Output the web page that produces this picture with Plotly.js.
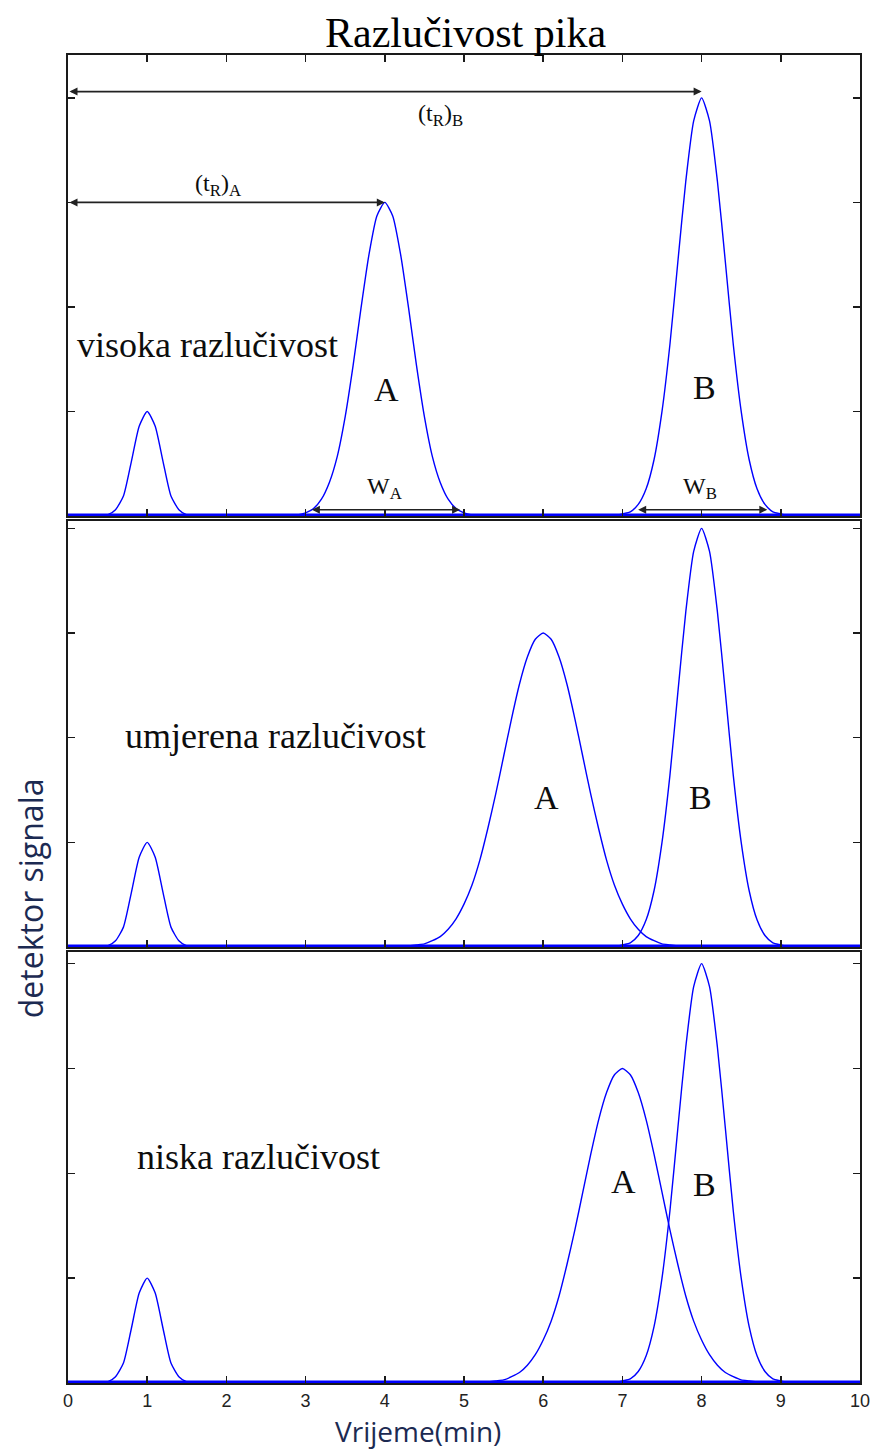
<!DOCTYPE html>
<html>
<head>
<meta charset="utf-8">
<script src="https://cdn.plot.ly/plotly-3.0.1.min.js"></script>
<style>html,body{margin:0;padding:0;background:#fff;}#chart{width:874px;height:1450px;}</style>
</head>
<body>
<div id="chart"></div>
<script>
// ---- data ----
const xTicks = [0,1,2,3,4,5,6,7,8,9,10];
const yTicks = [1,2,3,4];

// small early peak (all three panels)
const tPeak1 = [0.4,0.5,0.6,0.7,0.8,0.9,1.0,1.1,1.2,1.3,1.4,1.5,1.6];
const yPeak1 = [0,0.01,0.06,0.19,0.52,0.86,1,0.86,0.52,0.19,0.06,0.01,0];

// peak A, high resolution (narrow, centre 4)
const tAhigh = [2.8,2.9,3.0,3.1,3.2,3.3,3.4,3.5,3.6,3.7,3.8,3.9,4.0,4.1,4.2,4.3,4.4,4.5,4.6,4.7,4.8,4.9,5.0,5.1,5.2];
const yAhigh = [0,0.01,0.03,0.07,0.16,0.32,0.57,0.95,1.44,1.99,2.5,2.87,3,2.87,2.5,1.99,1.44,0.95,0.57,0.32,0.16,0.07,0.03,0.01,0];

// peak A, moderate resolution (wide, centre 6)
const tAmid = [4.2,4.3,4.4,4.5,4.6,4.7,4.8,4.9,5.0,5.1,5.2,5.3,5.4,5.5,5.6,5.7,5.8,5.9,6.0,6.1,6.2,6.3,6.4,6.5,6.6,6.7,6.8,6.9,7.0,7.1,7.2,7.3,7.4,7.5,7.6,7.7,7.8];
// peak A, low resolution (wide, centre 7)
const tAlow = [5.2,5.3,5.4,5.5,5.6,5.7,5.8,5.9,6.0,6.1,6.2,6.3,6.4,6.5,6.6,6.7,6.8,6.9,7.0,7.1,7.2,7.3,7.4,7.5,7.6,7.7,7.8,7.9,8.0,8.1,8.2,8.3,8.4,8.5,8.6,8.7,8.8];
const yAwide = [0,0.01,0.02,0.03,0.06,0.1,0.17,0.27,0.41,0.59,0.83,1.13,1.46,1.82,2.18,2.51,2.77,2.94,3,2.94,2.77,2.51,2.18,1.82,1.46,1.13,0.83,0.59,0.41,0.27,0.17,0.1,0.06,0.03,0.02,0.01,0];

// peak B (centre 8, all panels)
const tB = [6.9,7.0,7.1,7.2,7.3,7.4,7.5,7.6,7.7,7.8,7.9,8.0,8.1,8.2,8.3,8.4,8.5,8.6,8.7,8.8,8.9,9.0,9.1];
const yB = [0,0.02,0.04,0.11,0.26,0.54,1.0,1.64,2.43,3.2,3.78,4,3.78,3.2,2.43,1.64,1.0,0.54,0.26,0.11,0.04,0.02,0];

// baseline
const tBase = [0,10];
const yBase = [0,0];

// ---- drawing ----
const BLUE = '#0000ff';
function curve(x, y, xa, ya, w) {
  return {x: x, y: y, xaxis: xa, yaxis: ya, type: 'scatter', mode: 'lines',
          line: {color: BLUE, width: w || 1.4, shape: 'spline', smoothing: 0.6}, hoverinfo: 'skip', showlegend: false};
}
const traces = [];
const panels = [
  {xa: 'x',  ya: 'y',  A: [tAhigh, yAhigh]},
  {xa: 'x2', ya: 'y2', A: [tAmid, yAwide]},
  {xa: 'x3', ya: 'y3', A: [tAlow, yAwide]}
];
panels.forEach(p => {
  traces.push(curve(tBase, yBase, p.xa, p.ya, 5));
  traces.push(curve(tPeak1, yPeak1, p.xa, p.ya));
  traces.push(curve(p.A[0], p.A[1], p.xa, p.ya));
  traces.push(curve(tB, yB, p.xa, p.ya));
});

const LINE = '#1a1a1a';
function xax(extra) {
  return Object.assign({range: [0, 10], tickvals: xTicks, ticks: 'inside', ticklen: 7, tickwidth: 1.5,
    tickcolor: LINE, showline: true, linecolor: LINE, linewidth: 2, showgrid: false, zeroline: false,
    fixedrange: true}, extra);
}
function yax(top, dom, anchor) {
  return {range: [0, top], domain: dom, anchor: anchor, tickvals: yTicks, ticks: 'inside', ticklen: 7,
    tickwidth: 1.5, tickcolor: LINE, showticklabels: false, showline: true, linecolor: LINE,
    linewidth: 2, mirror: 'ticks', showgrid: false, zeroline: false, fixedrange: true};
}

const SERIF = 'Liberation Serif, Times New Roman, serif';
const SANS = 'Open Sans, Liberation Sans, sans-serif';
const TXT = '#0d0d0d';
const LBL = '#1c2a52';

function txt(text, x, y, xr, yr, size, xanchor) {
  return {text: text, x: x, y: y, xref: xr, yref: yr, showarrow: false,
          xanchor: xanchor || 'center', yanchor: 'middle', font: {family: SERIF, size: size, color: TXT}};
}
function arrow(x0, x1, y, xr, yr) {
  return {text: '', x: x1, y: y, ax: x0, ay: y, xref: xr, yref: yr, axref: xr, ayref: yr,
          showarrow: true, arrowhead: 2, arrowside: 'end+start', arrowsize: 1, arrowwidth: 1.6,
          arrowcolor: '#222', standoff: 0, startstandoff: 0};
}

const annotations = [
  // title
  {text: 'Razlučivost pika', x: 0.5025, y: 1.0166, xref: 'paper', yref: 'paper', showarrow: false,
   xanchor: 'center', yanchor: 'middle', font: {family: SERIF, size: 42, color: '#000'}},
  // axis labels
  {text: 'Vrijeme(min)', x: 0.442, y: -0.0361, xref: 'paper', yref: 'paper', showarrow: false,
   xanchor: 'center', yanchor: 'middle', font: {family: SANS, size: 28, color: LBL}},
  {text: 'detektor signala', x: -0.048, y: 0.365, xref: 'paper', yref: 'paper', showarrow: false,
   textangle: -90, xanchor: 'center', yanchor: 'middle', font: {family: SANS, size: 32, color: LBL}},
  // panel labels
  txt('visoka razlučivost', 0.09, 1.64, 'x', 'y', 36, 'left'),
  txt('umjerena razlučivost', 0.69, 2.02, 'x2', 'y2', 36, 'left'),
  txt('niska razlučivost', 0.85, 2.16, 'x3', 'y3', 36, 'left'),
  // peak letters
  txt('A', 4.02, 1.21, 'x', 'y', 34),
  txt('B', 8.04, 1.23, 'x', 'y', 34),
  txt('A', 6.04, 1.43, 'x2', 'y2', 34),
  txt('B', 7.99, 1.43, 'x2', 'y2', 34),
  txt('A', 7.01, 1.92, 'x3', 'y3', 34),
  txt('B', 8.04, 1.89, 'x3', 'y3', 34),
  // retention time and width markers
  arrow(0, 8, 4.06, 'x', 'y'),
  txt('(t<sub>R</sub>)<sub>B</sub>', 4.7, 3.84, 'x', 'y', 24),
  arrow(0, 4, 3.0, 'x', 'y'),
  txt('(t<sub>R</sub>)<sub>A</sub>', 1.9, 3.17, 'x', 'y', 24),
  arrow(3.06, 4.95, 0.06, 'x', 'y'),
  txt('W<sub>A</sub>', 4.0, 0.27, 'x', 'y', 24),
  arrow(7.18, 8.83, 0.06, 'x', 'y'),
  txt('W<sub>B</sub>', 7.98, 0.27, 'x', 'y', 24)
];

const layout = {
  width: 874, height: 1450,
  margin: {l: 68, r: 14, t: 55, b: 67, pad: 0},
  paper_bgcolor: '#fff', plot_bgcolor: '#fff',
  showlegend: false,
  xaxis: xax({anchor: 'y', mirror: 'ticks', showticklabels: false}),
  xaxis2: xax({anchor: 'y2', mirror: true, showticklabels: false}),
  xaxis3: xax({anchor: 'y3', mirror: true, showticklabels: true, ticklabelstandoff: 0,
               tickfont: {family: 'Liberation Sans Narrow, Liberation Sans, sans-serif', size: 18, color: '#222'}}),
  yaxis: yax(4.41, [0.6529, 1.0], 'x'),
  yaxis2: yax(4.07, [0.3283, 0.6491], 'x2'),
  yaxis3: yax(4.11, [0.0, 0.3245], 'x3'),
  annotations: annotations
};

Plotly.newPlot('chart', traces, layout, {staticPlot: true, displayModeBar: false});
</script>
</body>
</html>
